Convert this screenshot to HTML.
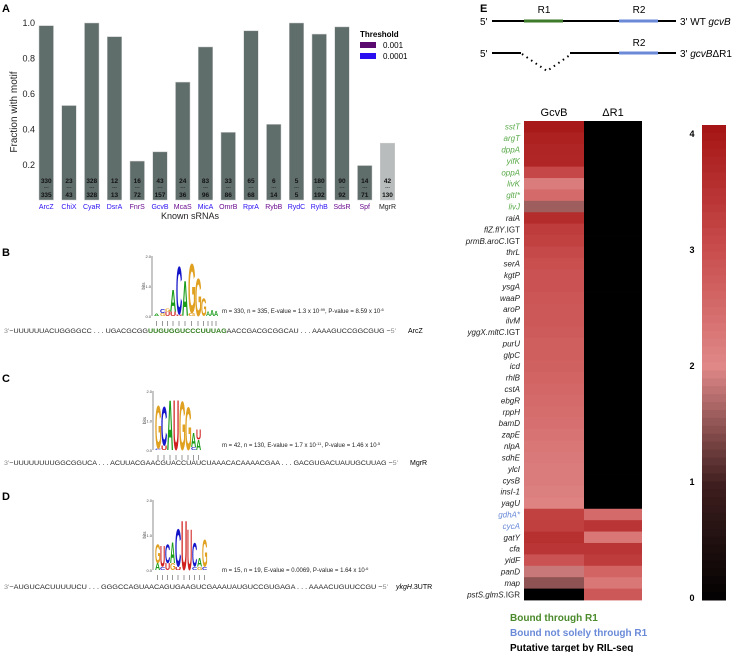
<!DOCTYPE html>
<html><head><meta charset="utf-8"><style>
body{margin:0;background:#fff;}
svg{display:block;font-family:"Liberation Sans",Arial,sans-serif;}
</style></head><body>
<svg id="fig" width="742" height="652" viewBox="0 0 742 652" xmlns="http://www.w3.org/2000/svg">
<g id="panelA">
<text x="2" y="12" font-size="11" font-weight="bold">A</text>
<text transform="translate(17,112) rotate(-90)" font-size="10" text-anchor="middle" fill="#222">Fraction with motif</text>
<text x="190" y="219" font-size="9" text-anchor="middle" fill="#222">Known sRNAs</text>
<text x="360" y="37" font-size="8" font-weight="bold">Threshold</text>
<rect x="360" y="42" width="16" height="6" fill="#5a0a6e"/>
<text x="383" y="48" font-size="8">0.001</text>
<rect x="360" y="53" width="16" height="6" fill="#2a10f0"/>
<text x="383" y="59" font-size="8">0.0001</text>
</g>
<g id="panelE">
<text x="480" y="12" font-size="11" font-weight="bold">E</text>
<text x="480" y="25" font-size="10">5'</text>
<line x1="492" y1="21" x2="676" y2="21" stroke="#000" stroke-width="2"/>
<line x1="524" y1="21" x2="563" y2="21" stroke="#3d7a2a" stroke-width="3"/>
<line x1="619" y1="21" x2="658" y2="21" stroke="#6a8ad8" stroke-width="3"/>
<text x="544" y="13" font-size="10" text-anchor="middle">R1</text>
<text x="639" y="13" font-size="10" text-anchor="middle">R2</text>
<text x="680" y="25" font-size="10">3'  WT <tspan font-style="italic">gcvB</tspan></text>
<text x="480" y="57" font-size="10">5'</text>
<line x1="492" y1="53" x2="521" y2="53" stroke="#000" stroke-width="2"/>
<polyline points="522,54 547,71 570,55" fill="none" stroke="#000" stroke-width="2" stroke-dasharray="1.5,4"/>
<line x1="570" y1="53" x2="676" y2="53" stroke="#000" stroke-width="2"/>
<line x1="619" y1="53" x2="658" y2="53" stroke="#6a8ad8" stroke-width="3"/>
<text x="639" y="46" font-size="10" text-anchor="middle">R2</text>
<text x="680" y="57" font-size="10">3'  <tspan font-style="italic">gcvB</tspan>ΔR1</text>
</g>
<g id="panelBCD">
<text x="2" y="256" font-size="11" font-weight="bold">B</text>
<text x="2" y="382" font-size="11" font-weight="bold">C</text>
<text x="2" y="500" font-size="11" font-weight="bold">D</text>
<text x="222" y="313" font-size="6" fill="#222">m = 330, n = 335, E-value = 1.3 x 10<tspan dy="-2" font-size="4">-99</tspan><tspan dy="2">, P-value = 8.59 x 10</tspan><tspan dy="-2" font-size="4">-6</tspan></text>
<text x="4" y="333" font-size="6.5" fill="#222" textLength="392" lengthAdjust="spacingAndGlyphs"><tspan fill="#888">3'</tspan>−UUUUUUACUGGGGCC . . . UGACGCGG<tspan fill="#2c7a18" font-weight="bold">UUGUGGUCCCUUUAG</tspan>AACCGACGCGGCAU . . . AAAAGUCCGGCGUG −<tspan fill="#888">5'</tspan></text>
<text x="408" y="333" font-size="7">ArcZ</text>
<text x="222" y="447" font-size="6" fill="#222">m = 42, n = 130, E-value = 1.7 x 10<tspan dy="-2" font-size="4">-11</tspan><tspan dy="2">, P-value = 1.46 x 10</tspan><tspan dy="-2" font-size="4">-5</tspan></text>
<text x="4" y="465" font-size="6.5" fill="#222" textLength="394" lengthAdjust="spacingAndGlyphs"><tspan fill="#888">3'</tspan>−UUUUUUUUGGCGGUCA . . . ACUUACGAACGUACCUAUCUAAACACAAAACGAA . . . GACGUGACUAUUGCUUAG −<tspan fill="#888">5'</tspan></text>
<text x="410" y="465" font-size="7">MgrR</text>
<text x="222" y="572" font-size="6" fill="#222">m = 15, n = 19, E-value = 0.0069, P-value = 1.64 x 10<tspan dy="-2" font-size="4">-6</tspan></text>
<text x="4" y="589" font-size="6.5" fill="#222" textLength="384" lengthAdjust="spacingAndGlyphs"><tspan fill="#888">3'</tspan>−AUGUCACUUUUUCU . . . GGGCCAGUAACAGUGAAGUCGAAAUAUGUCCGUGAGA . . . AAAACUGUUCCGU −<tspan fill="#888">5'</tspan></text>
<text x="396" y="589" font-size="7"><tspan font-style="italic">ykgH</tspan>.3UTR</text>
</g>
<g id="panelHM">
<text x="554" y="116" font-size="11" text-anchor="middle">GcvB</text>
<text x="613" y="116" font-size="11" text-anchor="middle">ΔR1</text>
<text x="510" y="621" font-size="10" font-weight="bold" fill="#4a8a2a">Bound through R1</text>
<text x="510" y="636" font-size="10" font-weight="bold" fill="#6a8ad8">Bound not solely through R1</text>
<text x="510" y="651" font-size="10" font-weight="bold" fill="#000">Putative target by RIL-seq</text>
</g>
</svg>
<script>
const NS="http://www.w3.org/2000/svg";
const svg=document.getElementById('fig');
function mk(tag,attrs,parent){const e=document.createElementNS(NS,tag);for(const k in attrs)e.setAttribute(k,attrs[k]);(parent||svg).appendChild(e);return e;}

// ---- Panel A data ----
const srnaNames=["ArcZ","ChiX","CyaR","DsrA","FnrS","GcvB","McaS","MicA","OmrB","RprA","RybB","RydC","RyhB","SdsR","Spf","MgrR"];
const motifCounts=[330,23,328,12,16,43,24,83,33,65,6,5,180,90,14,42];
const totalCounts=[335,43,328,13,72,157,36,96,86,68,14,5,192,92,71,130];
const fractions=[0.985,0.535,1.0,0.923,0.222,0.274,0.667,0.865,0.384,0.956,0.429,1.0,0.9375,0.978,0.197,0.323];
const labelColors=["blue","blue","blue","blue","purple","blue","purple","blue","purple","blue","purple","blue","blue","purple","purple","black"];
const yTicks=[0.2,0.4,0.6,0.8,1.0];
const colorMap={blue:"#2a10f0",purple:"#6a0a8e",black:"#222"};
const gA=document.getElementById('panelA');
const yA=v=>200.5-v*177.5;
const xA=i=>39+i*22.75;
for(const t of yTicks){const tx=mk('text',{x:35,y:yA(t)+3,'font-size':9,'text-anchor':'end',fill:'#222'},gA);tx.textContent=t.toFixed(1);

}
srnaNames.forEach((n,i)=>{
  const x=xA(i),y=yA(fractions[i]);
  const r=mk('rect',{x:x,y:y,width:14.5,height:200-y,fill:i==15?'#b8bcbc':'#5f6d6b',stroke:'#ccc','stroke-width':0.5},gA);
  
  
  const a=mk('text',{x:x+7.25,y:183,'font-size':6.5,'font-weight':'bold','text-anchor':'middle',fill:'#111'},gA);a.textContent=motifCounts[i];
  
  
  const d=mk('text',{x:x+7.25,y:189,'font-size':5,'text-anchor':'middle',fill:'#111'},gA);d.textContent='---';
  const b=mk('text',{x:x+7.25,y:197,'font-size':6.5,'font-weight':'bold','text-anchor':'middle',fill:'#111'},gA);b.textContent=totalCounts[i];
  
  
  const l=mk('text',{x:x+7.25,y:209,'font-size':7,'text-anchor':'middle',fill:colorMap[labelColors[i]]},gA);l.textContent=n;
  
  
});

// ---- Heatmap data ----
const genes=["sstT","argT","dppA","yifK","oppA","livK","gltI*","livJ","raiA","flZ.flY.IGT","prmB.aroC.IGT","thrL","serA","kgtP","ysgA","waaP","aroP","ilvM","yggX.mltC.IGT","purU","glpC","icd","rhlB","cstA","ebgR","rppH","bamD","zapE","nlpA","sdhE","ylcI","cysB","insI-1","yagU","gdhA*","cycA","gatY","cfa","yidF","panD","map","pstS.glmS.IGR"];
const geneClass=["g","g","g","g","g","g","g","g","k","k","k","k","k","k","k","k","k","k","k","k","k","k","k","k","k","k","k","k","k","k","k","k","k","k","b","b","k","k","k","k","k","k"];
const gcvbVals=[3.95,3.8,3.75,3.7,3.1,2.2,2.5,1.6,3.6,3.3,3.2,3.05,2.95,2.9,2.9,2.85,2.8,2.8,2.75,2.7,2.7,2.65,2.6,2.55,2.5,2.45,2.4,2.35,2.3,2.25,2.2,2.2,2.15,2.1,3.2,3.25,3.5,3.4,2.9,1.85,1.5,0];
const dr1Vals=[0,0,0,0,0,0,0,0,0,0,0,0,0,0,0,0,0,0,0,0,0,0,0,0,0,0,0,0,0,0,0,0,0,0,2.5,3.4,2.3,3.4,3.3,2.6,2.3,2.8];
const cbTicks=[0,1,2,3,4];
const stops=[[0,[0,0,0]],[1,[62,30,30]],[2,[224,136,136]],[3,[200,76,76]],[4,[166,22,22]]];
function col(v){v=Math.max(0,Math.min(4,v));for(let i=0;i<4;i++){const[a,ca]=stops[i],[b,cb]=stops[i+1];if(v<=b){const t=(v-a)/(b-a);return 'rgb('+ca.map((c,j)=>Math.round(c+(cb[j]-c)*t)).join(',')+')';}}return 'rgb(166,22,22)';}
const gH=document.getElementById('panelHM');
const top0=121,bot0=600,rh=(bot0-top0)/genes.length;
const clsCol={g:'#5aaa4a',b:'#6a8ad8',k:'#222'};
genes.forEach((g,i)=>{
  const y=top0+i*rh;
  const r1=mk('rect',{x:524,y:y,width:60,height:rh+0.4,fill:col(gcvbVals[i])},gH);
  
  
  const r2=mk('rect',{x:584,y:y,width:58,height:rh+0.4,fill:col(dr1Vals[i])},gH);
  
  
  const t=mk('text',{x:520,y:y+rh/2+3,'font-size':8,'text-anchor':'end',fill:clsCol[geneClass[i]]},gH);
  const p=g.split('.');
  if(p.length>1){const it=p.slice(0,-1).join('.');t.innerHTML='<tspan font-style="italic">'+it+'</tspan>.'+p[p.length-1];}
  else{t.setAttribute('font-style','italic');t.textContent=g;}
  
  
});
// colorbar
const cbTop=125,cbBot=600,yC=v=>597-v*(597-133)/4;
const nSeg=60;
for(let k=0;k<nSeg;k++){const v0=4-k*4/nSeg;const y=cbTop+k*(cbBot-cbTop)/nSeg;
 mk('rect',{x:702,y:y,width:24,height:(cbBot-cbTop)/nSeg+0.5,fill:col(v0)},gH);}
for(const t of cbTicks){const tx=mk('text',{x:692,y:yC(t)+4,'font-size':9,'font-weight':'bold','text-anchor':'middle'},gH);tx.textContent=t;

}

// ---- sequence logos ----
const LC={A:'#1a9c1a',C:'#1414c8',G:'#e0a020',U:'#d02020'};
const gM=document.getElementById('panelBCD');
function logo(ax,top,base,cols){
  mk('line',{x1:ax,y1:top,x2:ax,y2:base,stroke:'#444','stroke-width':0.6},gM);
  [[2,'2.0'],[1,'1.0'],[0,'0.0']].forEach(([v,s])=>{const y=base-(base-top)*v/2;const t=mk('text',{x:ax-1,y:y+2,'font-size':4,'text-anchor':'end',fill:'#444'},gM);t.textContent=s;});
  const bt=mk('text',{transform:'translate('+(ax-7)+','+((top+base)/2)+') rotate(-90)','font-size':4.5,'text-anchor':'middle',fill:'#444'},gM);bt.textContent='bits';
  const bh=(base-top)/2;
  cols.forEach(c=>{let y=base;
    for(const [ch,h] of c.s){const hp=h*bh;const sx=c.w/(0.7*10),sy=hp/7.2;
      const t=mk('text',{transform:'translate('+c.x+','+y+') scale('+sx+','+sy+')','font-size':10,'font-weight':'bold',fill:LC[ch]},gM);t.textContent=ch;y-=hp;}
    mk('line',{x1:c.x+c.w/2,y1:base+5,x2:c.x+c.w/2,y2:base+10,stroke:'#333','stroke-width':0.5},gM);
  });
}
logo(152,256,316,[{x:154,w:5,s:[['A',0.08]]},{x:160,w:5,s:[['G',0.1],['C',0.12]]},{x:165,w:5,s:[['U',0.15],['G',0.1]]},{x:170,w:6,s:[['U',0.15],['A',0.75]]},{x:176,w:6,s:[['U',0.05],['C',1.65]]},{x:182,w:6,s:[['A',1.2]]},{x:188,w:7,s:[['G',0.1],['G',1.7]]},{x:195,w:6,s:[['G',1.3]]},{x:201,w:5,s:[['G',0.6]]},{x:206,w:4,s:[['A',0.15]]},{x:210,w:4,s:[['A',0.2]]},{x:214,w:4,s:[['A',0.18]]}]);
logo(153,391,450,[{x:155,w:6,s:[['C',0.05],['G',1.5]]},{x:161,w:6,s:[['U',0.15],['C',1.35]]},{x:167,w:6,s:[['A',1.75]]},{x:173,w:6,s:[['U',1.75]]},{x:179,w:6,s:[['G',1.7]]},{x:185,w:6,s:[['G',1.5]]},{x:191,w:5,s:[['C',0.1],['A',0.5]]},{x:196,w:5,s:[['A',0.35],['U',0.35]]}]);
logo(153,500,570,[{x:155,w:5,s:[['A',0.2],['G',0.55]]},{x:160,w:5,s:[['C',0.1],['U',0.6]]},{x:165,w:5,s:[['U',0.2],['C',0.55]]},{x:170,w:5,s:[['G',0.2],['A',0.6]]},{x:175,w:6,s:[['U',0.1],['C',1.1]]},{x:181,w:6,s:[['U',1.45]]},{x:187,w:5,s:[['U',1.2]]},{x:192,w:5,s:[['C',0.1],['C',0.7]]},{x:197,w:5,s:[['G',0.1],['A',0.25]]},{x:202,w:5,s:[['C',0.1],['G',0.8]]}]);
</script>
</body></html>
